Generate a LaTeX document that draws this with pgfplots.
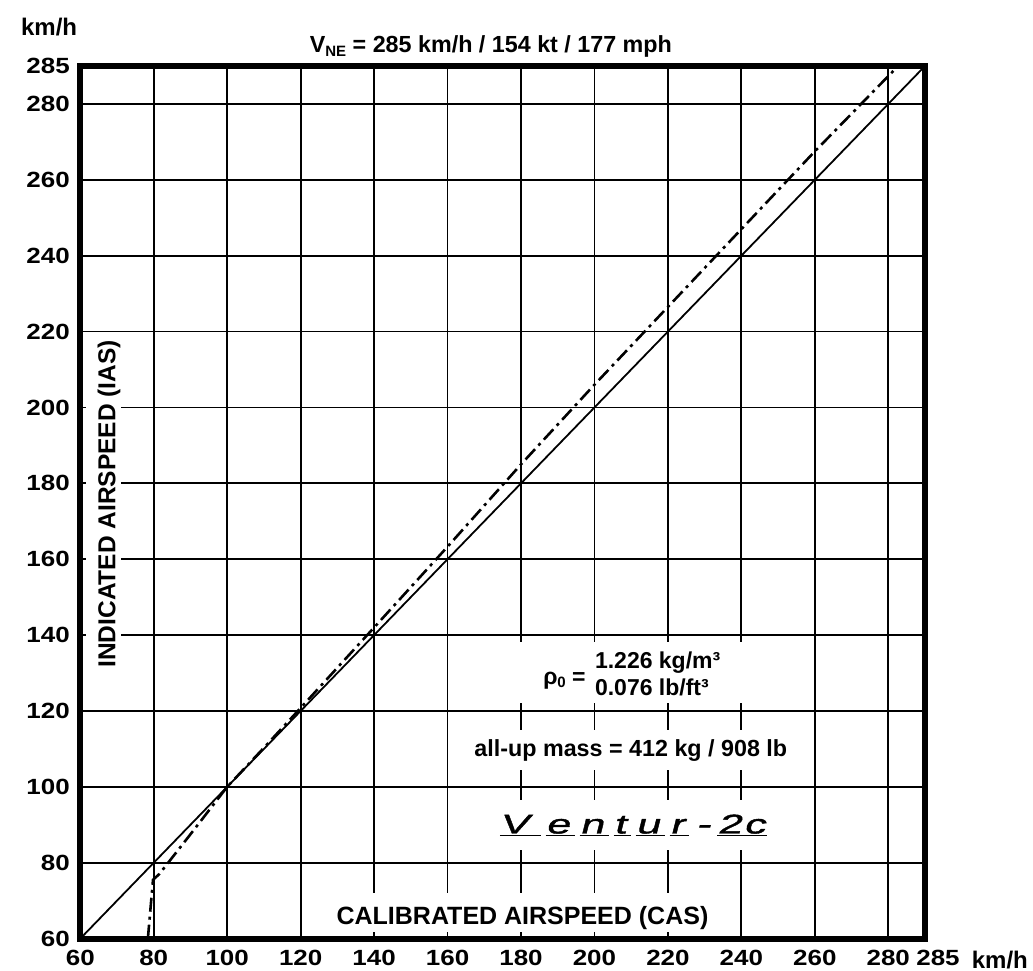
\documentclass[border=0pt]{standalone}
\usepackage{pgfplots}
\pgfplotsset{compat=1.18}
\usepackage{pgfplotstable}
\usepackage{fontspec}
\setmainfont{Liberation Sans}
\newfontfamily\tickfont[FakeStretch=1.18]{Liberation Sans}
\newfontfamily\logofont[FakeSlant=0.25,FakeStretch=1.6,FakeBold=1.5]{Liberation Sans}
\newcommand\lgl[2]{\underline{#1\hspace{#2}}}

\pgfplotstableread{
cas ias
78.4 60
79.8 75.5
81.5 77
90 87.5
100 100
110 110.3
120 120.8
140 142
160 163.3
180 185
200 206
220 226.5
240 247
260 267.5
282.5 289.8
}\dashdot

\begin{document}
\begin{tikzpicture}
\begin{axis}[
  at={(0,0)}, anchor=south west,
  scale only axis, width=844.7pt, height=872.6pt,
  xmin=60, xmax=290, ymin=60, ymax=290,
  xtick={60,80,...,280}, ytick={60,80,...,280},
  extra x ticks={290}, extra x tick labels={285},
  extra y ticks={290}, extra y tick labels={285},
  extra x tick style={grid=none, xticklabel style={xshift=13pt}},
  extra y tick style={grid=none},
  major tick length=0pt,
  grid=major,
  major grid style={black, line width=1.8pt},
  axis line style={line width=6pt},
  ticklabel style={font=\tickfont\bfseries\fontsize{22}{22}\selectfont},
  /pgf/number format/assume math mode=true,
  yticklabel style={xshift=-7pt},
  xticklabel style={yshift=-8pt},
  clip=false,
]
% white boxes behind the texts
\fill[white] (axis cs:61.6,120.4) rectangle (axis cs:71.1,218.8);
\fill[white] (axis cs:125.2,61.7) rectangle (axis cs:235.5,72.0);
\fill[white] (axis cs:175.5,122.1) rectangle (axis cs:250.4,138.2);
\fill[white] (axis cs:164.7,104.4) rectangle (axis cs:255.9,115.0);
\fill[white] (axis cs:161.9,83.4) rectangle (axis cs:259.1,96.5);

\addplot[black, line width=1.8pt] coordinates {(60,60) (290,290)};
\addplot[black, line width=2.6pt, dash pattern=on 14pt off 5pt on 3pt off 5pt] table[x=cas,y=ias] {\dashdot};

\node[rotate=90, font=\bfseries\fontsize{24.5}{24.5}\selectfont] at (axis cs:67.8,174.6) {INDICATED AIRSPEED (IAS)};
\node[anchor=base, inner sep=0pt, font=\bfseries\fontsize{25}{25}\selectfont] at (axis cs:180.4,63.6) {CALIBRATED AIRSPEED (CAS)};
\node[anchor=base, inner sep=0pt, yshift=13pt, font=\bfseries\fontsize{23.3}{23.3}\selectfont] at (axis cs:171.8,290) {V\raisebox{-4pt}{\fontsize{15}{15}\selectfont NE} = 285 km/h / 154 kt / 177 mph};
\node[anchor=center, font=\bfseries\fontsize{24}{24}\selectfont] at (axis cs:51.5,300.3) {km/h};
\node[anchor=base west, inner sep=0pt, font=\bfseries\fontsize{24}{24}\selectfont] at (axis cs:302.7,52.25) {km/h};

\node[anchor=base west, inner sep=0pt, font=\bfseries\fontsize{23}{23}\selectfont] at (axis cs:200.1,131.3) {1.226 kg/m³};
\node[anchor=base west, inner sep=0pt, font=\bfseries\fontsize{23}{23}\selectfont] at (axis cs:200.1,124.2) {0.076 lb/ft³};
\node[anchor=base east, inner sep=0pt, font=\bfseries\fontsize{23}{23}\selectfont] at (axis cs:198.7,127.0) {ρ\raisebox{-3pt}{\fontsize{15}{15}\selectfont 0} =\,};
\node[anchor=base, inner sep=0pt, font=\bfseries\fontsize{23.3}{23.3}\selectfont] at (axis cs:209.9,107.9) {all-up mass = 412 kg / 908 lb};
\node[anchor=center, inner sep=0pt, font=\logofont\fontsize{27}{27}\selectfont] at (axis cs:210.6,89.9) {\lgl{V}{12pt}\hspace{5pt}\lgl{e}{5pt}\hspace{5pt}\lgl{n}{5pt}\hspace{5pt}\lgl{t}{5pt}\hspace{5pt}\lgl{u}{5pt}\hspace{5pt}\lgl{r}{5pt}\hspace{7pt}-\hspace{7pt}\lgl{2}{2pt}\lgl{c}{2pt}};
\end{axis}
\pgfresetboundingbox
\path[use as bounding box] (-80.3pt,-32.4pt) rectangle (952.7pt,938.6pt);
\end{tikzpicture}
\end{document}
